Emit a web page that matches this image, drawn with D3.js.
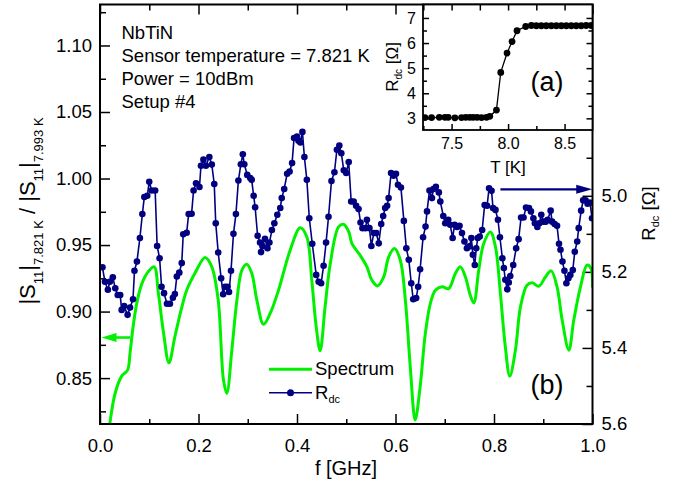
<!DOCTYPE html>
<html>
<head>
<meta charset="utf-8">
<script src="https://cdn.jsdelivr.net/npm/d3@7"></script>
<style>
  html, body { margin: 0; padding: 0; background: #fff; }
  svg { display: block; font-family: "Liberation Sans", Arial, Helvetica, sans-serif; }
</style>
</head>
<body>
<svg id="chart" width="695" height="485"></svg>
<script>
// ---------------- DATA ----------------
// Spectrum: |S11|(7.821 K)/|S11|(7.993 K) vs f [GHz]
const specFreq = [0.020,0.031,0.044,0.056,0.061,0.067,0.0745,0.085,0.098,0.110,
  0.1185,0.129,0.140,0.152,0.1646,0.176,0.193,0.2134,0.227,0.240,
  0.2507,0.2575,0.2677,0.278,0.288,0.298,0.308,0.3185,0.332,0.3455,
  0.3624,0.386,0.4065,0.420,0.430,0.439,0.447,0.457,0.4675,0.4844,
  0.4945,0.505,0.5116,0.528,0.542,0.552,0.5637,0.576,0.586,0.598,
  0.6098,0.620,0.630,0.640,0.650,0.6606,0.6707,0.681,0.6945,0.708,
  0.7215,0.7317,0.742,0.752,0.759,0.769,0.779,0.7927,0.803,0.813,
  0.823,0.832,0.8435,0.8537,0.867,0.8774,0.8909,0.9045,0.916,0.928,
  0.9384,0.952,0.962,0.9756,0.989,0.997,1.0];
const specS11 = [0.816,0.839,0.8515,0.856,0.869,0.888,0.906,0.921,0.930,0.9336,
  0.914,0.884,0.8615,0.881,0.901,0.916,0.929,0.9406,0.9336,0.9086,
  0.8485,0.8385,0.871,0.9086,0.931,0.9356,0.929,0.9086,0.8905,0.8986,
  0.916,0.946,0.963,0.956,0.9236,0.8885,0.8705,0.9035,0.936,0.9636,
  0.9656,0.960,0.9511,0.9424,0.9336,0.9236,0.9193,0.926,0.941,0.9474,
  0.9386,0.9086,0.8585,0.8185,0.8435,0.8836,0.906,0.916,0.9186,0.9173,
  0.9286,0.9336,0.926,0.912,0.9065,0.931,0.951,0.9598,0.9486,0.9136,
  0.8735,0.8515,0.871,0.9035,0.9198,0.9216,0.919,0.926,0.9306,0.9186,
  0.8936,0.871,0.8936,0.9186,0.935,0.9324,0.918];

// R_dc [Ohm] vs f [GHz] (right, reversed axis)
const rdcFreq = [0.005,0.010,0.016,0.020,0.026,0.031,0.036,0.041,0.044,0.049,
  0.056,0.061,0.067,0.070,0.075,0.081,0.086,0.090,0.096,0.100,
  0.105,0.112,0.116,0.121,0.125,0.130,0.136,0.142,0.148,0.152,
  0.156,0.161,0.166,0.169,0.176,0.180,0.186,0.190,0.195,0.202,
  0.205,0.210,0.215,0.222,0.227,0.232,0.235,0.240,0.246,0.250,
  0.254,0.259,0.262,0.266,0.271,0.276,0.281,0.286,0.290,0.293,
  0.299,0.305,0.308,0.312,0.315,0.320,0.325,0.327,0.330,0.335,
  0.340,0.344,0.349,0.354,0.360,0.366,0.369,0.374,0.380,0.385,
  0.390,0.394,0.400,0.403,0.407,0.411,0.415,0.420,0.425,0.431,
  0.439,0.444,0.449,0.454,0.459,0.464,0.470,0.476,0.481,0.486,
  0.490,0.495,0.500,0.505,0.510,0.515,0.520,0.525,0.529,0.533,
  0.539,0.542,0.547,0.551,0.556,0.561,0.566,0.571,0.575,0.579,
  0.583,0.586,0.591,0.596,0.601,0.605,0.611,0.617,0.622,0.627,
  0.632,0.636,0.642,0.646,0.650,0.656,0.661,0.664,0.669,0.674,
  0.677,0.682,0.688,0.691,0.697,0.701,0.707,0.711,0.716,0.720,
  0.725,0.730,0.735,0.740,0.745,0.750,0.754,0.757,0.761,0.764,
  0.767,0.771,0.776,0.781,0.786,0.790,0.795,0.798,0.803,0.808,
  0.812,0.817,0.820,0.823,0.827,0.830,0.833,0.839,0.845,0.850,
  0.855,0.860,0.865,0.871,0.875,0.880,0.883,0.888,0.892,0.896,
  0.900,0.905,0.909,0.915,0.918,0.923,0.928,0.932,0.935,0.939,
  0.943,0.947,0.951,0.955,0.960,0.964,0.969,0.972,0.977,0.981,
  0.986,0.990,0.995,0.999];
const rdcValues = [5.188,5.226,5.247,5.226,5.214,5.243,5.261,5.261,5.300,5.290,
  5.313,5.294,5.272,5.197,5.173,5.111,5.048,5.003,5.000,4.963,
  4.986,4.986,5.132,5.164,5.239,5.256,5.284,5.284,5.268,5.258,
  5.212,5.202,5.177,5.101,5.097,5.048,5.047,4.986,4.967,4.977,
  4.921,4.905,4.921,4.898,4.918,4.969,5.072,5.149,5.217,5.259,
  5.239,5.239,5.253,5.197,5.100,5.048,4.960,4.917,4.891,4.917,
  4.945,4.953,4.958,5.000,5.030,5.105,5.123,5.148,5.132,5.113,
  5.138,5.123,5.090,5.072,5.050,5.032,5.006,4.982,4.942,4.936,
  4.914,4.848,4.844,4.855,4.860,4.832,4.898,4.958,5.059,5.126,
  5.208,5.226,5.230,5.184,5.123,5.055,4.961,4.938,4.879,4.868,
  4.888,4.933,4.940,4.911,5.015,5.015,5.026,5.035,5.070,5.085,
  5.085,5.063,5.085,5.132,5.098,5.098,5.125,5.074,5.053,5.032,
  5.026,5.006,4.940,4.947,4.942,4.971,4.978,5.066,5.138,5.168,
  5.230,5.272,5.269,5.239,5.193,5.109,5.081,5.041,4.986,5.006,
  4.982,4.976,4.991,5.015,5.053,5.072,5.063,5.076,5.111,5.076,
  5.082,5.079,5.098,5.120,5.138,5.133,5.111,5.155,5.182,5.138,
  5.111,5.107,5.090,5.024,5.026,4.980,4.987,5.032,5.037,5.063,
  5.109,5.164,5.190,5.221,5.246,5.228,5.211,5.182,5.138,5.114,
  5.057,5.057,5.031,5.032,5.041,5.059,5.072,5.082,5.072,5.050,
  5.068,5.068,5.063,5.039,5.068,5.074,5.079,5.126,5.142,5.173,
  5.197,5.230,5.217,5.208,5.195,5.147,5.120,5.085,5.039,5.012,
  5.012,5.021,5.018,5.059];

// Inset (a): R_dc [Ohm] vs T [K]
const insetT = [7.264,7.323,7.391,7.441,7.470,7.529,7.588,7.626,7.661,7.691,
  7.726,7.765,7.809,7.838,7.897,7.935,7.991,8.035,8.079,8.156,
  8.206,8.250,8.294,8.338,8.383,8.427,8.471,8.515,8.559,8.603,
  8.647,8.691,8.736];
const insetR = [3.03,3.03,3.04,3.04,3.04,3.02,3.03,3.04,3.04,3.04,
  3.04,3.03,3.04,3.08,3.33,4.83,5.60,6.06,6.49,6.66,
  6.70,6.69,6.69,6.69,6.69,6.69,6.69,6.69,6.69,6.69,
  6.69,6.70,6.70];

// Tick values
const xTicks = [0, 0.2, 0.4, 0.6, 0.8, 1.0];
const xMinor = [0.1, 0.3, 0.5, 0.7, 0.9];
const yLeftTicks = [0.85, 0.90, 0.95, 1.00, 1.05, 1.10];
const yLeftMinor = [0.825, 0.875, 0.925, 0.975, 1.025, 1.075, 1.125];
const yRightTicks = [5.0, 5.2, 5.4, 5.6];
const yRightMinor = [4.5, 4.7, 4.9, 5.1, 5.3, 5.5];
const insetXTicks = [7.5, 8.0, 8.5];
const insetXMinor = [7.25, 7.75, 8.25];
const insetYTicks = [3, 4, 5, 6, 7];
const insetYMinor = [2.5, 3.5, 4.5, 5.5, 6.5, 7.5];

const annotations = ["NbTiN", "Sensor temperature = 7.821 K", "Power = 10dBm", "Setup #4"];

// ---------------- LAYOUT ----------------
const GREEN = "#00f000", NAVY = "#000080";
const L = 100, R = 592.5, T = 4.5, B = 424;
const svg = d3.select("#chart");

const x = d3.scaleLinear([0, 1], [L, R]);
const yL = d3.scaleLinear([0.8155, 1.1308], [B, T]);
const yR = d3.scaleLinear([4.497, 5.6], [T, B]);

svg.append("defs").append("clipPath").attr("id", "plotclip")
  .append("rect").attr("x", L).attr("y", T).attr("width", R - L).attr("height", B - T);

function styleAxis(g, fs) {
  g.select(".domain").remove();
  g.selectAll(".tick line").attr("stroke", "#000").attr("stroke-width", 1.5);
  g.selectAll(".tick text").attr("fill", "#000").attr("font-size", fs)
    .attr("font-family", "Liberation Sans, Arial, sans-serif");
}

// main axes
svg.append("g").attr("transform", `translate(0,${B})`)
  .call(d3.axisBottom(x).tickValues(xTicks).tickFormat(d3.format(".1f")).tickSizeInner(-10).tickSizeOuter(0).tickPadding(15))
  .call(g => styleAxis(g, 18.5));
svg.append("g").attr("transform", `translate(0,${B})`)
  .call(d3.axisBottom(x).tickValues(xMinor).tickFormat("").tickSizeInner(-5).tickSizeOuter(0))
  .call(g => styleAxis(g, 18.5));
svg.append("g").attr("transform", `translate(0,${T})`)
  .call(d3.axisTop(x).tickValues(xTicks).tickFormat("").tickSizeInner(-10).tickSizeOuter(0))
  .call(g => styleAxis(g, 18.5));
svg.append("g").attr("transform", `translate(0,${T})`)
  .call(d3.axisTop(x).tickValues(xMinor).tickFormat("").tickSizeInner(-6).tickSizeOuter(0))
  .call(g => styleAxis(g, 18.5));

svg.append("g").attr("transform", `translate(${L},0)`)
  .call(d3.axisLeft(yL).tickValues(yLeftTicks).tickFormat(d3.format(".2f")).tickSizeInner(-10).tickSizeOuter(0).tickPadding(8))
  .call(g => styleAxis(g, 18.5));
svg.append("g").attr("transform", `translate(${L},0)`)
  .call(d3.axisLeft(yL).tickValues(yLeftMinor).tickFormat("").tickSizeInner(-6).tickSizeOuter(0))
  .call(g => styleAxis(g, 18.5));

svg.append("g").attr("transform", `translate(${R},0)`)
  .call(d3.axisRight(yR).tickValues(yRightTicks).tickFormat(d3.format(".1f")).tickSizeInner(-10).tickSizeOuter(0).tickPadding(9))
  .call(g => styleAxis(g, 18.5));
svg.append("g").attr("transform", `translate(${R},0)`)
  .call(d3.axisRight(yR).tickValues(yRightMinor).tickFormat("").tickSizeInner(-6).tickSizeOuter(0))
  .call(g => styleAxis(g, 18.5));

// ---------------- SERIES ----------------
const plot = svg.append("g").attr("clip-path", "url(#plotclip)");

const specData = specFreq.map((f, i) => [f, specS11[i]]);
plot.append("path")
  .attr("d", d3.line().x(d => x(d[0])).y(d => yL(d[1])).curve(d3.curveCatmullRom.alpha(0.5))(specData))
  .attr("fill", "none").attr("stroke", GREEN).attr("stroke-width", 3).attr("stroke-linejoin", "round");

const rdcData = rdcFreq.map((f, i) => [f, rdcValues[i]]);
plot.append("path")
  .attr("d", d3.line().x(d => x(d[0])).y(d => yR(d[1]))(rdcData))
  .attr("fill", "none").attr("stroke", NAVY).attr("stroke-width", 1.6).attr("stroke-linejoin", "round");
plot.selectAll("circle.rdc").data(rdcData).join("circle").attr("class", "rdc")
  .attr("cx", d => x(d[0])).attr("cy", d => yR(d[1])).attr("r", 3.3).attr("fill", NAVY);

// arrows
function arrow(x1, x2, y, color, w, hl, hw) {
  const dir = Math.sign(x2 - x1);
  svg.append("line").attr("x1", x1).attr("x2", x2 - dir * hl * 0.8).attr("y1", y).attr("y2", y)
    .attr("stroke", color).attr("stroke-width", w);
  svg.append("path")
    .attr("d", `M${x2},${y} L${x2 - dir * hl},${y - hw} L${x2 - dir * hl},${y + hw} Z`)
    .attr("fill", color);
}
arrow(x(0.061), x(0.003), yL(0.8805), GREEN, 2.6, 15, 4.5);
arrow(x(0.813), x(0.9995), yR(4.983), NAVY, 2.4, 16, 4.5);

// frame
svg.append("rect").attr("x", L).attr("y", T).attr("width", R - L).attr("height", B - T)
  .attr("fill", "none").attr("stroke", "#000").attr("stroke-width", 2);

// annotations
const ann = svg.append("text").attr("font-size", 18.5).attr("fill", "#000");
annotations.forEach((t, i) => {
  ann.append("tspan").attr("x", 121.5).attr("y", 38.5 + i * 23).text(t);
});

svg.append("text").attr("x", 547).attr("y", 394).attr("text-anchor", "middle")
  .attr("font-size", 27).text("(b)");

// legend
svg.append("line").attr("x1", 269).attr("x2", 312).attr("y1", 369.3).attr("y2", 369.3)
  .attr("stroke", GREEN).attr("stroke-width", 3);
svg.append("text").attr("x", 315).attr("y", 375).attr("font-size", 18.5).text("Spectrum");
svg.append("line").attr("x1", 269).attr("x2", 312).attr("y1", 392.7).attr("y2", 392.7)
  .attr("stroke", NAVY).attr("stroke-width", 1.6);
svg.append("circle").attr("cx", 290.5).attr("cy", 392.7).attr("r", 3.5).attr("fill", NAVY);
const lr = svg.append("text").attr("x", 315).attr("y", 399).attr("font-size", 18.5);
lr.append("tspan").text("R");
lr.append("tspan").attr("font-size", 11).attr("dy", 4).text("dc");

// axis titles
svg.append("text").attr("x", 346).attr("y", 475).attr("text-anchor", "middle")
  .attr("font-size", 20).text("f [GHz]");

const lt = svg.append("text").attr("transform", "translate(35,211) rotate(-90)")
  .attr("text-anchor", "middle").attr("font-size", 22);
lt.append("tspan").text("|S");
lt.append("tspan").attr("font-size", 13).attr("dy", 8).text("11");
lt.append("tspan").attr("dy", -8).text("|");
lt.append("tspan").attr("font-size", 13).attr("dy", 8).text("7.821 K");
lt.append("tspan").attr("dy", -8).text(" / |S");
lt.append("tspan").attr("font-size", 13).attr("dy", 8).text("11");
lt.append("tspan").attr("dy", -8).text("|");
lt.append("tspan").attr("font-size", 13).attr("dy", 8).text("7.993 K");

const rt = svg.append("text").attr("transform", "translate(655,213.5) rotate(-90)")
  .attr("text-anchor", "middle").attr("font-size", 18.5);
rt.append("tspan").text("R");
rt.append("tspan").attr("font-size", 11).attr("dy", 4).text("dc");
rt.append("tspan").attr("dy", -4).text(" [Ω]");

// ---------------- INSET ----------------
const iL = 423, iR = 592.5, iT = 4.5, iB = 130;
const xi = d3.scaleLinear([7.247, 8.747], [iL, iR]);
const yi = d3.scaleLinear([2.536, 7.536], [iB, iT]);
const inset = svg.append("g");
inset.append("rect").attr("x", iL).attr("y", iT).attr("width", iR - iL).attr("height", iB - iT)
  .attr("fill", "#fff");

inset.append("g").attr("transform", `translate(0,${iB})`)
  .call(d3.axisBottom(xi).tickValues(insetXTicks).tickFormat(d3.format(".1f")).tickSizeInner(-6).tickSizeOuter(0).tickPadding(8))
  .call(g => styleAxis(g, 16));
inset.append("g").attr("transform", `translate(0,${iB})`)
  .call(d3.axisBottom(xi).tickValues(insetXMinor).tickFormat("").tickSizeInner(-4).tickSizeOuter(0))
  .call(g => styleAxis(g, 16));
inset.append("g").attr("transform", `translate(0,${iT})`)
  .call(d3.axisTop(xi).tickValues(insetXTicks.concat(insetXMinor)).tickFormat("").tickSizeInner(-6).tickSizeOuter(0))
  .call(g => styleAxis(g, 16));
inset.append("g").attr("transform", `translate(${iL},0)`)
  .call(d3.axisLeft(yi).tickValues(insetYTicks).tickFormat(d3.format("d")).tickSizeInner(-6).tickSizeOuter(0).tickPadding(7))
  .call(g => styleAxis(g, 16));
inset.append("g").attr("transform", `translate(${iL},0)`)
  .call(d3.axisLeft(yi).tickValues(insetYMinor.filter(v => v > 2.6 && v < 7.5)).tickFormat("").tickSizeInner(-4).tickSizeOuter(0))
  .call(g => styleAxis(g, 16));
inset.append("g").attr("transform", `translate(${iR},0)`)
  .call(d3.axisRight(yi).tickValues(insetYTicks).tickFormat("").tickSizeInner(-6).tickSizeOuter(0))
  .call(g => styleAxis(g, 16));
inset.append("g").attr("transform", `translate(${iR},0)`)
  .call(d3.axisRight(yi).tickValues(insetYMinor.filter(v => v > 2.6 && v < 7.5)).tickFormat("").tickSizeInner(-4).tickSizeOuter(0))
  .call(g => styleAxis(g, 16));

inset.append("defs").append("clipPath").attr("id", "insetclip")
  .append("rect").attr("x", iL).attr("y", iT).attr("width", iR - iL).attr("height", iB - iT);
const ip = inset.append("g").attr("clip-path", "url(#insetclip)");
const insetData = insetT.map((t, i) => [t, insetR[i]]);
ip.append("path").attr("d", d3.line().x(d => xi(d[0])).y(d => yi(d[1]))(insetData))
  .attr("fill", "none").attr("stroke", "#000").attr("stroke-width", 1.3);
ip.selectAll("circle").data(insetData).join("circle")
  .attr("cx", d => xi(d[0])).attr("cy", d => yi(d[1])).attr("r", 3.4).attr("fill", "#000");

inset.append("rect").attr("x", iL).attr("y", iT).attr("width", iR - iL).attr("height", iB - iT)
  .attr("fill", "none").attr("stroke", "#000").attr("stroke-width", 1.8);

inset.append("text").attr("x", 547).attr("y", 91).attr("text-anchor", "middle")
  .attr("font-size", 27).text("(a)");
inset.append("text").attr("x", 508).attr("y", 173).attr("text-anchor", "middle")
  .attr("font-size", 17).text("T [K]");
const it = inset.append("text").attr("transform", "translate(398,67) rotate(-90)")
  .attr("text-anchor", "middle").attr("font-size", 17);
it.append("tspan").text("R");
it.append("tspan").attr("font-size", 10).attr("dy", 4).text("dc");
it.append("tspan").attr("dy", -4).text(" [Ω]");
</script>
</body>
</html>
